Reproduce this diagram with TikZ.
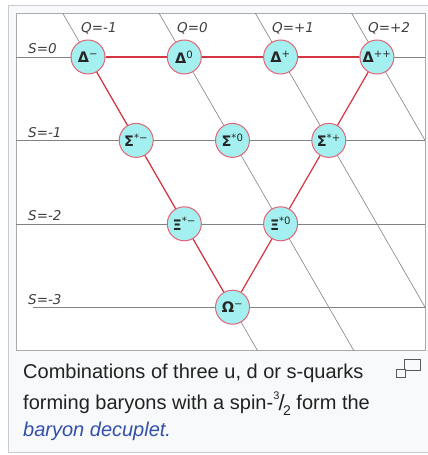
\documentclass[tikz,border=0pt]{standalone}
\usepackage{fontspec}
\setmainfont{Liberation Sans}
\newfontfamily\dejavu{DejaVu Sans}
\usetikzlibrary{calc}
\definecolor{gridgray}{RGB}{130,130,130}
\definecolor{redline}{RGB}{214,52,66}
\definecolor{nodeborder}{RGB}{226,100,116}
\definecolor{nodefill}{RGB}{164,240,240}
\definecolor{thumbbg}{RGB}{248,249,250}
\definecolor{outerframe}{RGB}{200,204,209}
\definecolor{innerframe}{RGB}{170,170,170}
\definecolor{captext}{RGB}{34,34,34}
\definecolor{linkblue}{RGB}{51,80,170}
\begin{document}
\begin{tikzpicture}[x=1pt,y=-1pt,
  gridline/.style={draw=gridgray,line width=0.6pt},
  tri/.style={draw=redline,line width=1.2pt},
  particle/.style={circle,draw=nodeborder,fill=nodefill,line width=1pt,minimum size=34pt,inner sep=0pt,font=\dejavu\bfseries\fontsize{14.5}{14.5}\selectfont,text=black!85},
  axislabel/.style={anchor=base west,inner sep=0pt,font=\dejavu\itshape\fontsize{13.5}{13.5}\selectfont,text=black!75},
  captionline/.style={anchor=base west,inner sep=0pt,font=\fontsize{20}{20}\selectfont,text=captext},
  iconbox/.style={draw=black!65,line width=1pt}]
\useasboundingbox (0,0) rectangle (428,455);
\fill[white] (0,0) rectangle (428,455);
\draw[outerframe,fill=thumbbg,line width=1pt] (8.5,5.5) rectangle (445,452);
\draw[innerframe,fill=white,line width=0.8pt] (16,13.5) rectangle (425,350);
% lattice positions
\coordinate (cdm) at (88,57);
\coordinate (cdz) at (184.3,57);
\coordinate (cdp) at (280.6,57);
\coordinate (cdpp) at (376.9,57);
\coordinate (csm) at (136.2,140.4);
\coordinate (csz) at (232.5,140.4);
\coordinate (csp) at (328.8,140.4);
\coordinate (cxm) at (184.3,223.8);
\coordinate (cxz) at (280.6,223.8);
\coordinate (com) at (232.5,307.2);
% grid lines
\begin{scope}
\clip (16,13.5) rectangle (425,350);
\foreach \c in {cdm,csm,cxm,com}{
  \draw[gridline] ($(\c)+(-200,0)$) -- ($(\c)+(500,0)$);
}
\foreach \c in {cdm,cdz,cdp,cdpp}{
  \draw[gridline] ($(\c)+(-100,-173.2)$) -- ($(\c)+(300,519.6)$);
}
\end{scope}
% axis labels
\node[axislabel] (s0) at (28,53.5) {S=0};
\node[axislabel] (s1) at (28,137) {S=-1};
\node[axislabel] (s2) at (28,220.5) {S=-2};
\node[axislabel] (s3) at (28,304) {S=-3};
\node[axislabel] (q1) at (81,32.5) {Q=-1};
\node[axislabel] (q2) at (177,32.5) {Q=0};
\node[axislabel] (q3) at (272,32.5) {Q=+1};
\node[axislabel] (q4) at (368,32.5) {Q=+2};
% particles
\node[particle] (dm) at (cdm) {Δ\textsuperscript{\mdseries −}};
\node[particle] (dz) at (cdz) {Δ\textsuperscript{\mdseries 0}};
\node[particle] (dp) at (cdp) {Δ\textsuperscript{\mdseries +}};
\node[particle] (dpp) at (cdpp) {Δ\textsuperscript{\mdseries ++}};
\node[particle] (sm) at (csm) {Σ\textsuperscript{\mdseries *−}};
\node[particle] (sz) at (csz) {Σ\textsuperscript{\mdseries *0}};
\node[particle] (sp) at (csp) {Σ\textsuperscript{\mdseries *+}};
\node[particle] (xm) at (cxm) {Ξ\textsuperscript{\mdseries *−}};
\node[particle] (xz) at (cxz) {Ξ\textsuperscript{\mdseries *0}};
\node[particle] (om) at (com) {Ω\textsuperscript{\mdseries −}};
% triangle edges
\draw[tri] (dm) -- (dz);
\draw[tri] (dz) -- (dp);
\draw[tri] (dp) -- (dpp);
\draw[tri] (dm) -- (sm);
\draw[tri] (sm) -- (xm);
\draw[tri] (xm) -- (om);
\draw[tri] (dpp) -- (sp);
\draw[tri] (sp) -- (xz);
\draw[tri] (xz) -- (om);
% caption
\node[captionline] (cap1) at (23,378) {Combinations of three u, d or s-quarks};
\node[captionline] (cap2) at (23,409) {forming baryons with a spin-\raisebox{0.5em}{\fontsize{11}{11}\selectfont 3}\kern-0.04em\raisebox{-0.05em}{\fontsize{22}{22}\selectfont /}\kern-0.08em\raisebox{-0.3em}{\fontsize{14}{14}\selectfont 2}\ form the};
\node[captionline,text=linkblue,font=\itshape\fontsize{20}{20}\selectfont] (cap3) at (23,436) {baryon decuplet.};
% enlarge icon
\draw[iconbox] (404.5,359) rectangle (420.5,370.5);
\draw[iconbox,fill=thumbbg] (396.5,369) rectangle (405.5,377);
\end{tikzpicture}
\end{document}
